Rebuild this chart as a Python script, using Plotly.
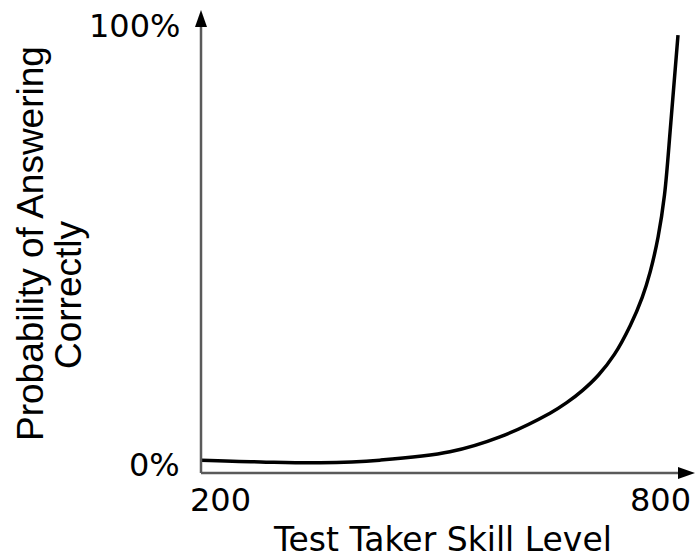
import plotly.graph_objects as go

# Item characteristic curve: probability of a correct answer vs. skill level
skill = [200, 275, 350, 425, 513, 576, 639, 660, 680, 700, 720, 740, 755, 765, 775, 783, 791, 800]
prob = [0.011, 0.007, 0.005, 0.011, 0.030, 0.064, 0.118, 0.142, 0.170, 0.205, 0.252,
        0.318, 0.382, 0.440, 0.520, 0.615, 0.780, 0.979]

x_tick_vals = [200, 800]
x_tick_text = ["200", "800"]
y_tick_vals = [0, 1]
y_tick_text = ["0%", "100%"]

W, H = 696, 559
# axis scaling: data units per pixel
X_ORIGIN_PX, X_PER_PX = 201, 600 / 477
Y_ZERO_PX, Y_PX_PER_UNIT = 465, 439

x_range = [200 - X_ORIGIN_PX * X_PER_PX, 200 + (W - X_ORIGIN_PX) * X_PER_PX]
y_range = [(Y_ZERO_PX - H) / Y_PX_PER_UNIT, Y_ZERO_PX / Y_PX_PER_UNIT]

x_axis_y = (Y_ZERO_PX - 473) / Y_PX_PER_UNIT      # baseline of the horizontal axis
y_axis_top = (Y_ZERO_PX - 10) / Y_PX_PER_UNIT     # tip of the vertical arrow
x_axis_end = 200 + (695 - X_ORIGIN_PX) * X_PER_PX  # tip of the horizontal arrow

FONT = "DejaVu Sans, Verdana, sans-serif"
TITLE_FONT = "Liberation Sans, Arial, sans-serif"
AXIS_GRAY = "#5a5a5a"

fig = go.Figure()
fig.add_trace(go.Scatter(
    x=skill, y=prob, mode="lines",
    line=dict(color="black", width=3.5, shape="spline", smoothing=1.0),
    hoverinfo="skip",
))

shapes = [
    # vertical axis
    dict(type="line", xref="x", yref="y", x0=200, x1=200, y0=x_axis_y, y1=y_axis_top - 0.02,
         line=dict(color=AXIS_GRAY, width=2.5)),
    # horizontal axis
    dict(type="line", xref="x", yref="y", x0=200, x1=x_axis_end - 10, y0=x_axis_y, y1=x_axis_y,
         line=dict(color=AXIS_GRAY, width=2.5)),
    # arrowheads
    dict(type="path", xref="x", yref="y", xsizemode="pixel", ysizemode="pixel",
         xanchor=200, yanchor=y_axis_top,
         path="M 0 0 L -6 -17 L 6 -17 Z", fillcolor="black", line=dict(width=0)),
    dict(type="path", xref="x", yref="y", xsizemode="pixel", ysizemode="pixel",
         xanchor=x_axis_end, yanchor=x_axis_y,
         path="M 0 0 L -17 6 L -17 -6 Z", fillcolor="black", line=dict(width=0)),
]

annotations = []
for v, t, dx in zip(x_tick_vals, x_tick_text, [19, -18]):
    annotations.append(dict(x=v, y=x_axis_y, xref="x", yref="y", text=t, showarrow=False,
                            xanchor="center", yanchor="middle", xshift=dx, yshift=-27,
                            font=dict(family=FONT, size=32, color="black")))
for v, t in zip(y_tick_vals, y_tick_text):
    annotations.append(dict(x=200, y=v, xref="x", yref="y", text=t, showarrow=False,
                            xanchor="right", yanchor="middle", xshift=-19,
                            font=dict(family=FONT, size=32, color="black")))

# axis titles
annotations.append(dict(x=442 / W, y=1 - 539 / H, xref="paper", yref="paper",
                        text="Test Taker Skill Level", showarrow=False,
                        xanchor="center", yanchor="middle",
                        font=dict(family=FONT, size=33, color="black")))
annotations.append(dict(x=31 / W, y=1 - 244 / H, xref="paper", yref="paper",
                        text="Probability of Answering", showarrow=False, textangle=-90,
                        xanchor="center", yanchor="middle",
                        font=dict(family=TITLE_FONT, size=37, color="black")))
annotations.append(dict(x=68 / W, y=1 - 295 / H, xref="paper", yref="paper",
                        text="Correctly", showarrow=False, textangle=-90,
                        xanchor="center", yanchor="middle",
                        font=dict(family=TITLE_FONT, size=37, color="black")))

fig.update_layout(
    width=W, height=H,
    margin=dict(l=0, r=0, t=0, b=0),
    paper_bgcolor="white", plot_bgcolor="white",
    showlegend=False,
    xaxis=dict(range=x_range, visible=False, fixedrange=True),
    yaxis=dict(range=y_range, visible=False, fixedrange=True),
    shapes=shapes,
    annotations=annotations,
)

fig.write_html("out.html")
